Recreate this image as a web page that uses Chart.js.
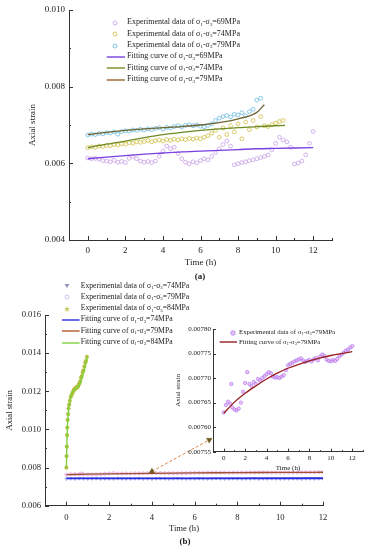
<!DOCTYPE html>
<html>
<head>
<meta charset="utf-8">
<script src="https://cdn.jsdelivr.net/npm/chart.js@4.4.1/dist/chart.umd.min.js"></script>
<style>
  html, body { margin: 0; padding: 0; background: #fff; }
  #page { position: relative; width: 368px; height: 550px; overflow: hidden;
          font-family: "Liberation Serif", "Times New Roman", serif; color: #222; }
  .box { position: absolute; }
  .box canvas { display: block; }
  .lg { position: absolute; white-space: nowrap; line-height: 10px; }
  .mk { position: absolute; overflow: visible; }
  .sub { font-size: 0.62em; position: relative; top: 0.3em; }
  .cap { position: absolute; font-weight: bold; font-size: 9px; transform: translateX(-50%); }
</style>
</head>
<body>
<div id="page">
  <div class="box" style="left:0;top:0"><canvas id="chartA" width="368" height="285"></canvas></div>
  <div class="box" style="left:0;top:280px"><canvas id="chartB" width="368" height="270"></canvas></div>
  <div class="box" style="left:160px;top:318px"><canvas id="chartIn" width="208" height="165"></canvas></div>
  <div class="cap" style="left:200px;top:271px">(a)</div>
  <div class="cap" style="left:185px;top:536px">(b)</div>
</div>
<script>
/*************** data ***************/
// sampling times (h)
const tA = [0,0.2,0.4,0.6,0.8,1,1.2,1.4,1.6,1.8,2,2.2,2.4,2.6,2.8,3,3.2,3.4,3.6,3.8,
  4,4.2,4.4,4.6,4.8,5,5.2,5.4,5.6,5.8,6,6.2,6.4,6.6,6.8,7,7.2,7.4,7.6,7.8,
  8,8.2,8.4,8.6,8.8,9,9.2,9.4,9.6,9.8,10,10.2,10.4,10.6,10.8,11,11.2,11.4,11.6,11.8,12];

// (a) experimental data
const exp69 = [0.00614,0.00612,0.00613,0.00611,0.00607,0.00606,0.00604,0.00608,0.00603,0.00605,
  0.00602,0.00613,0.00618,0.00612,0.00606,0.00603,0.00605,0.00602,0.00606,0.00618,
  0.00632,0.00645,0.00638,0.00642,0.00626,0.00612,0.00603,0.00599,0.00604,0.00601,
  0.00607,0.00612,0.00609,0.00618,0.00628,0.00638,0.00649,0.00658,0.00645,0.00596,
  0.00599,0.00602,0.00604,0.00607,0.00609,0.00612,0.00615,0.00618,0.00622,0.00635,
  0.00652,0.00668,0.00661,0.00656,0.00642,0.00598,0.00601,0.00606,0.00622,0.00652,
  0.00683];
const exp74 = [0.00641,0.00643,0.00642,0.00645,0.00644,0.00647,0.00646,0.00649,0.00648,0.00651,
  0.00650,0.00654,0.00652,0.00656,0.00655,0.00657,0.00660,0.00656,0.00659,0.00661,
  0.00658,0.00662,0.00660,0.00663,0.00661,0.00664,0.00662,0.00665,0.00663,0.00666,
  0.00664,0.00668,0.00672,0.00679,0.00686,0.00668,0.00692,0.00675,0.00698,0.00682,
  0.00703,0.00664,0.00708,0.00688,0.00712,0.00695,0.00722,0.00698,0.00696,0.00701,
  0.00705,0.00709,0.00712];
const exp79 = [0.00674,0.00676,0.00675,0.00678,0.00677,0.00680,0.00679,0.00682,0.00676,0.00683,
  0.00685,0.00684,0.00687,0.00686,0.00689,0.00687,0.00690,0.00688,0.00691,0.00693,
  0.00689,0.00694,0.00692,0.00696,0.00698,0.00695,0.00699,0.00701,0.00698,0.00700,
  0.00697,0.00695,0.00699,0.00703,0.00712,0.00718,0.00722,0.00725,0.00721,0.00728,
  0.00726,0.00732,0.00724,0.00735,0.00741,0.00765,0.00770];

// (a) fitting curves
const tFit69 = [0,1,2,3,4,5,6,7,8,9,10,11,12];
const fit69 = [0.00612,0.00616,0.00620,0.00624,0.00627,0.00630,0.00632,0.00634,0.00636,0.00638,0.00639,0.00640,0.00641];
const tFit74 = [0,1,2,3,4,5,6,7,8,9,10,10.5];
const fit74 = [0.00641,0.00650,0.00658,0.00667,0.00675,0.00681,0.00686,0.00690,0.00693,0.00696,0.00698,0.00699];
const tFit79 = [0,1,2,3,4,5,6,7,8,9,9.4];
const fit79 = [0.00675,0.00681,0.00686,0.00690,0.00693,0.00696,0.00700,0.00706,0.00716,0.00733,0.00753];

// (b) 74 MPa
const exp74b = [0.00741,0.00742,0.00741,0.00743,0.00742,0.00741,0.00742,0.00743,0.00741,0.00742,
  0.00742,0.00741,0.00743,0.00742,0.00741,0.00742,0.00742,0.00743,0.00741,0.00742,
  0.00741,0.00742,0.00743,0.00742,0.00741,0.00742,0.00743,0.00742,0.00741,0.00742,
  0.00742,0.00743,0.00742,0.00741,0.00742,0.00743,0.00742,0.00741,0.00742,0.00743,
  0.00742,0.00741,0.00742,0.00742,0.00743,0.00741,0.00742,0.00742,0.00743,0.00742,
  0.00741,0.00742,0.00742,0.00743,0.00742,0.00741,0.00742,0.00743,0.00742,0.00742,
  0.00742];
const tFit74b = [0,12];
const fit74b = [0.00743,0.00744];

// (b) 79 MPa (also the inset)
const exp79b = [0.007630,0.007645,0.007652,0.007648,0.007640,0.007636,0.007634,0.007638,0.007650,0.007672,
  0.007690,0.007712,0.007688,0.007684,0.007692,0.007688,0.007698,0.007695,0.007700,0.007704,
  0.007708,0.007712,0.007710,0.007703,0.007701,0.007702,0.007700,0.007703,0.007706,0.007716,
  0.007726,0.007729,0.007731,0.007734,0.007736,0.007738,0.007740,0.007736,0.007733,0.007735,
  0.007737,0.007734,0.007738,0.007741,0.007736,0.007744,0.007748,0.007745,0.007738,0.007735,
  0.007734,0.007737,0.007735,0.007739,0.007745,0.007748,0.007752,0.007756,0.007758,0.007762,
  0.007765];
const tOut79 = [0.7];
const out79 = [0.007688];
const tFit79b = [0,1,2,3,4,5,6,7,8,9,10,11,12];
const fit79b = [0.007628,0.007651,0.007669,0.007684,0.007698,0.007710,0.007720,0.007728,0.007735,0.007741,0.007746,0.007750,0.007754];

// (b) 84 MPa
const t84 = [0,0.01,0.02,0.03,0.04,0.06,0.08,0.1,0.13,0.16,0.2,0.24,0.28,0.32,0.36,
  0.4,0.44,0.48,0.52,0.56,0.6,0.64,0.68,0.72,0.76,0.8,0.84,0.88,0.92,0.96];
const exp84 = [0.0080,0.0086,0.0091,0.0097,0.0101,0.0105,0.0108,0.0111,0.0113,0.0115,0.0117,0.0118,0.0119,0.0120,0.0121,
  0.0121,0.0122,0.0122,0.0122,0.0123,0.0124,0.0125,0.0127,0.0128,0.0130,0.0131,0.0133,0.0135,0.0136,0.0138];
const tFit84 = [0,0.02,0.05,0.1,0.15,0.2,0.3,0.4,0.5,0.6,0.7,0.8,0.9,0.97];
const fit84 = [0.0080,0.0091,0.0102,0.0110,0.0114,0.0117,0.0120,0.0121,0.0122,0.0123,0.0126,0.0130,0.0134,0.0138];

// zoom arrow (time, strain)
const arrowT = [4, 6.68];
const arrowV = [0.0078, 0.00945];

// labels
const pressA = ['69', '74', '79'];
const pressB = ['74', '79', '84'];

/*************** helpers ***************/
const FONT = "'Liberation Serif','Times New Roman',serif";
Chart.defaults.font.family = FONT;
Chart.defaults.color = '#222';
Chart.defaults.animation = false;

function pts(xs, ys) { return ys.map((y, i) => ({ x: xs[i], y: y })); }

function sig(kind, p) {
  return kind + ' of σ<span class="sub">1</span>-σ<span class="sub">3</span>=' + p + 'MPa';
}

// inward tick marks, long where a label is shown
const inTicks = {
  id: 'inTicks',
  afterDraw(chart, args, o) {
    const ctx = chart.ctx, xs = chart.scales.x, ys = chart.scales.y;
    ctx.save();
    ctx.strokeStyle = '#333';
    ctx.lineWidth = 1;
    xs.ticks.forEach(t => {
      const px = Math.round(xs.getPixelForValue(t.value)) + 0.5;
      const len = t.label !== '' ? o.major : o.minor;
      ctx.beginPath(); ctx.moveTo(px, xs.top); ctx.lineTo(px, xs.top - len); ctx.stroke();
    });
    ys.ticks.forEach(t => {
      const py = Math.round(ys.getPixelForValue(t.value)) + 0.5;
      const len = t.label !== '' ? o.major : o.minor;
      ctx.beginPath(); ctx.moveTo(ys.right, py); ctx.lineTo(ys.right + len, py); ctx.stroke();
    });
    ctx.restore();
  }
};

function axes(o) {
  return {
    x: {
      type: 'linear', min: o.xmin, max: o.xmax,
      grid: { display: false, drawTicks: false },
      border: { color: '#333', width: 1 },
      ticks: { stepSize: 1, autoSkip: false, maxRotation: 0, padding: o.xpad, font: { size: o.fs }, color: '#222',
        callback: v => (v >= 0 && Math.round(v) % 2 === 0) ? String(Math.round(v)) : '' },
      title: { display: true, text: 'Time (h)', font: { size: o.fs }, color: '#222', padding: { top: 0, bottom: o.xtp } },
      afterFit: s => { s.height = o.xh; }
    },
    y: {
      type: 'linear', min: o.ymin, max: o.ymax,
      grid: { display: false, drawTicks: false },
      border: { color: '#333', width: 1 },
      ticks: { stepSize: o.ystep, autoSkip: false, padding: o.ypad, font: { size: o.fs }, color: '#222',
        callback: o.ylab },
      title: { display: true, text: 'Axial strain', font: { size: o.fs }, color: '#222', padding: { top: o.ytp, bottom: 0 } },
      afterFit: s => { s.width = o.yw; }
    }
  };
}

function evenThousandth(v) {
  const k = Math.round(v * 1000);
  return k % 2 === 0 ? (k / 1000).toFixed(3) : '';
}

function fitLine(xs, ys, color, w) {
  return { type: 'line', data: pts(xs, ys), borderColor: color, borderWidth: w || 1.3,
    pointRadius: 0, tension: 0.4, cubicInterpolationMode: 'monotone', fill: false };
}
function scatter(xs, ys, o) {
  return Object.assign({ type: 'scatter', data: pts(xs, ys), pointRadius: 1.9, borderWidth: 0.75,
    pointBackgroundColor: 'rgba(0,0,0,0)' }, o);
}

/*************** chart (a) ***************/
new Chart(document.getElementById('chartA'), {
  type: 'scatter',
  data: {
    datasets: [
      fitLine(tFit79, fit79, '#6f6432'),
      fitLine(tFit74, fit74, '#6e8b23'),
      fitLine(tFit69, fit69, '#7a3fe0'),
      scatter(tA, exp79, { pointBorderColor: '#63b8dd' }),
      scatter(tA, exp74, { pointBorderColor: '#cdb93a' }),
      scatter(tA, exp69, { pointBorderColor: '#c49ae6' })
    ]
  },
  options: {
    responsive: false,
    layout: { padding: { left: 0, top: 10, right: 36, bottom: 0 } },
    plugins: { legend: { display: false }, tooltip: { enabled: false }, inTicks: { major: 4, minor: 2 } },
    scales: axes({ xmin: -1, xmax: 13, ymin: 0.004, ymax: 0.010, ystep: 0.001, ylab: evenThousandth,
      fs: 9, xpad: 5, ypad: 4, xtp: 16.6, ytp: 27.6, xh: 45, yw: 69 })
  },
  plugins: [inTicks]
});

/*************** chart (b) ***************/
new Chart(document.getElementById('chartB'), {
  type: 'scatter',
  data: {
    datasets: [
      { type: 'line', data: pts(arrowT, arrowV), borderColor: '#e0813f', borderWidth: 1, borderDash: [3, 2],
        pointStyle: 'triangle', pointRotation: [0, 180], pointRadius: 3.2,
        pointBackgroundColor: '#6e5a1e', pointBorderColor: '#6e5a1e', pointBorderWidth: 0.5 },
      fitLine(tFit84, fit84, '#7fd13b', 1.4),
      fitLine(tFit79b, fit79b, '#a0522d', 1.3),
      fitLine(tFit74b, fit74b, '#2b2be0', 1.8),
      scatter(t84, exp84, { pointStyle: 'star', pointRadius: 2.1, pointBorderColor: '#b5be3c', borderWidth: 1.1 }),
      scatter(tA.concat(tOut79), exp79b.concat(out79), { pointRadius: 1.6, pointBorderColor: 'rgba(226,150,230,0.8)',
        pointBackgroundColor: 'rgba(240,190,240,0.5)' }),
      scatter(tA, exp74b, { pointStyle: 'triangle', pointRotation: 180, pointRadius: 1.8,
        pointBorderColor: '#9aa6e6', pointBackgroundColor: 'rgba(170,180,240,0.4)' })
    ]
  },
  options: {
    responsive: false,
    layout: { padding: { left: 0, top: 35, right: 45, bottom: 0 } },
    plugins: { legend: { display: false }, tooltip: { enabled: false }, inTicks: { major: 4, minor: 2 } },
    scales: axes({ xmin: -1, xmax: 12, ymin: 0.006, ymax: 0.016, ystep: 0.001, ylab: evenThousandth,
      fs: 8.6, xpad: 7, ypad: 4, xtp: 16.6, ytp: 4.6, xh: 44.3, yw: 45 })
  },
  plugins: [inTicks]
});

/*************** inset ***************/
new Chart(document.getElementById('chartIn'), {
  type: 'scatter',
  data: {
    datasets: [
      fitLine(tFit79b, fit79b, '#961f1f', 1.3),
      scatter(tA.concat(tOut79), exp79b.concat(out79), { pointRadius: 1.7, pointBorderColor: 'rgba(160,120,240,0.85)',
        pointBackgroundColor: 'rgba(236,140,236,0.55)' })
    ]
  },
  options: {
    responsive: false,
    layout: { padding: { left: 0, top: 11, right: 5, bottom: 0 } },
    plugins: { legend: { display: false }, tooltip: { enabled: false }, inTicks: { major: 3, minor: 1.5 } },
    scales: axes({ xmin: -1, xmax: 13, ymin: 0.00755, ymax: 0.0078, ystep: 0.00005, ylab: v => v.toFixed(5),
      fs: 7, xpad: 2, ypad: 2, xtp: 10.8, ytp: 13.8, xh: 31.3, yw: 53 })
  },
  plugins: [inTicks]
});

/*************** legends (html) ***************/
const page = document.getElementById('page');
function marker(kind, color, cx, cy, x0, x1) {
  const ns = 'http://www.w3.org/2000/svg';
  const s = document.createElementNS(ns, 'svg');
  s.setAttribute('class', 'mk');
  s.setAttribute('width', 30); s.setAttribute('height', 10);
  s.style.left = (cx - 15) + 'px'; s.style.top = (cy - 5) + 'px';
  let el;
  if (kind === 'line') {
    el = document.createElementNS(ns, 'line');
    el.setAttribute('x1', x0 - cx + 15); el.setAttribute('x2', x1 - cx + 15);
    el.setAttribute('y1', 5); el.setAttribute('y2', 5);
    el.setAttribute('stroke', color); el.setAttribute('stroke-width', 1.4);
  } else if (kind === 'circle') {
    el = document.createElementNS(ns, 'circle');
    el.setAttribute('cx', 15); el.setAttribute('cy', 5); el.setAttribute('r', 2);
    el.setAttribute('fill', 'none'); el.setAttribute('stroke', color); el.setAttribute('stroke-width', 0.8);
  } else if (kind === 'fcircle') {
    el = document.createElementNS(ns, 'circle');
    el.setAttribute('cx', 15); el.setAttribute('cy', 5); el.setAttribute('r', 2.2);
    el.setAttribute('fill', 'rgba(236,150,236,0.6)'); el.setAttribute('stroke', color); el.setAttribute('stroke-width', 0.8);
  } else if (kind === 'tri') {
    el = document.createElementNS(ns, 'polygon');
    el.setAttribute('points', '12.5,3 17.5,3 15,7');
    el.setAttribute('fill', color);
  } else {
    el = document.createElementNS(ns, 'polygon');
    el.setAttribute('points', '15,2 15.8,4.3 18,4.3 16.2,5.6 16.9,8 15,6.5 13.1,8 13.8,5.6 12,4.3 14.2,4.3');
    el.setAttribute('fill', color);
  }
  s.appendChild(el);
  page.appendChild(s);
}
function legend(rows, o) {
  rows.forEach((r, i) => {
    const y = o.top + i * o.gap;
    if (r.kind === 'line') marker('line', r.color, o.mx, y, o.lx0, o.lx1);
    else marker(r.kind, r.color, o.mx, y);
    const d = document.createElement('div');
    d.className = 'lg';
    d.style.left = o.tx + 'px';
    d.style.top = (y - 5.5) + 'px';
    d.style.fontSize = o.size + 'px';
    d.innerHTML = r.text;
    page.appendChild(d);
  });
}

legend([
  { kind: 'circle', color: '#c49ae6', text: sig('Experimental data', pressA[0]) },
  { kind: 'circle', color: '#cdb93a', text: sig('Experimental data', pressA[1]) },
  { kind: 'circle', color: '#63b8dd', text: sig('Experimental data', pressA[2]) },
  { kind: 'line', color: '#7a3fe0', text: sig('Fitting curve', pressA[0]) },
  { kind: 'line', color: '#7d8a24', text: sig('Fitting curve', pressA[1]) },
  { kind: 'line', color: '#9a6232', text: sig('Fitting curve', pressA[2]) }
], { top: 22.7, gap: 11.4, mx: 115, lx0: 106.7, lx1: 125, tx: 127, size: 8 });

legend([
  { kind: 'tri', color: '#8f97b8', text: sig('Experimental data', pressB[0]) },
  { kind: 'circle', color: '#c0b0e8', text: sig('Experimental data', pressB[1]) },
  { kind: 'star', color: '#c8c860', text: sig('Experimental data', pressB[2]) },
  { kind: 'line', color: '#2b2be0', text: sig('Fitting curve', pressB[0]) },
  { kind: 'line', color: '#b0582e', text: sig('Fitting curve', pressB[1]) },
  { kind: 'line', color: '#7fd13b', text: sig('Fitting curve', pressB[2]) }
], { top: 286, gap: 11.3, mx: 66.7, lx0: 61.7, lx1: 79.3, tx: 80.7, size: 7.7 });

legend([
  { kind: 'fcircle', color: '#a080f0', text: sig('Experimental data', pressB[1]) },
  { kind: 'line', color: '#961f1f', text: sig('Fitting curve', pressB[1]) }
], { top: 332.7, gap: 9.6, mx: 233.3, lx0: 220, lx1: 237.3, tx: 239, size: 6.8 });
</script>
</body>
</html>
